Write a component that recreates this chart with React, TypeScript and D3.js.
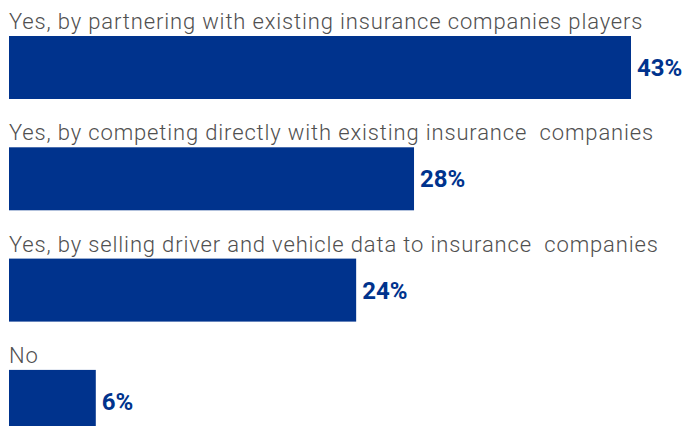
import React from "react";
import * as d3 from "d3";

const categories = [
  "Yes, by partnering with existing insurance companies players",
  "Yes, by competing directly with existing insurance  companies",
  "Yes, by selling driver and vehicle data to insurance  companies",
  "No",
];
const values = [43, 28, 24, 6];

const W = 688;
const H = 426;

export default function App() {
  const x = d3.scaleLinear().domain([0, 43]).range([9, 631]);
  const rowStep = 111.3;
  const barTop = (i: number) => 36 + i * rowStep;
  const barH = 63;
  return (
    <svg
      width={W}
      height={H}
      style={{ position: "absolute", left: 0, top: 0, background: "#fff" }}
      fontFamily="Roboto, sans-serif"
    >
      {categories.map((c, i) => (
        <g key={i}>
          <text
            x={9}
            y={barTop(i) - 7}
            fontSize={22}
            fontWeight={300}
            letterSpacing={0.85}
            fill="#505050"
            style={{ whiteSpace: "pre" }}
          >
            {c}
          </text>
          <rect
            x={x(0)}
            y={barTop(i)}
            width={x(values[i]) - x(0)}
            height={barH}
            fill="#00338D"
          />
          <text
            x={x(values[i]) + 6}
            y={barTop(i) + barH / 2 + 8.5}
            fontSize={24}
            fontWeight={700}
            fill="#00338D"
          >
            {values[i]}%
          </text>
        </g>
      ))}
    </svg>
  );
}
